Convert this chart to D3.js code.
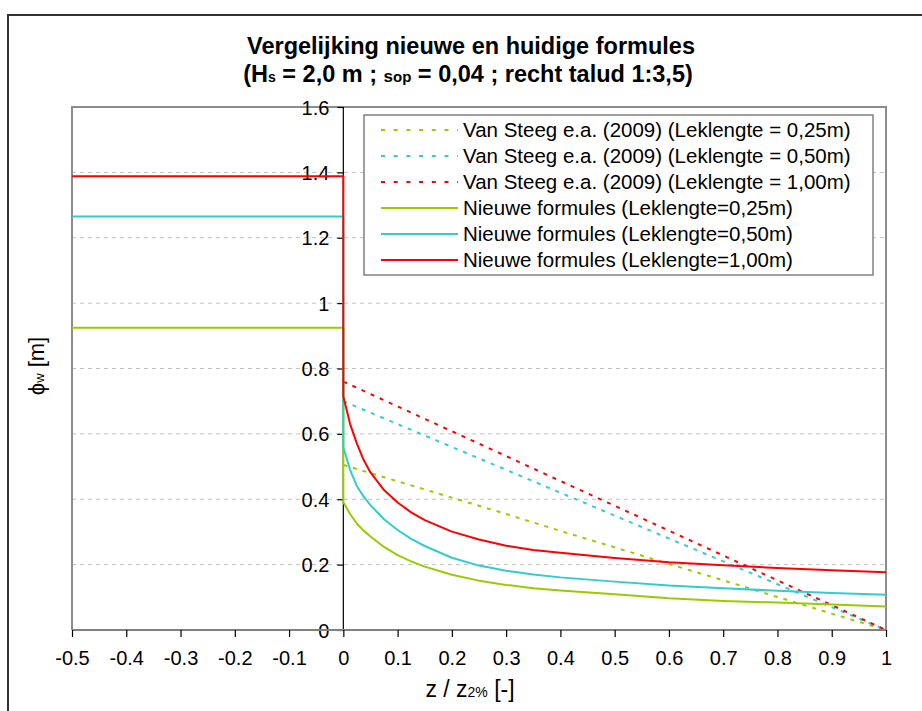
<!DOCTYPE html>
<html><head><meta charset="utf-8">
<script src="https://cdn.jsdelivr.net/npm/d3@7"></script>
<style>
body{margin:0;background:#fff;}
svg{display:block;font-family:"Liberation Sans",Arial,sans-serif;}
</style></head>
<body><svg id="c" width="922" height="711"></svg>
<script>
// ---- data ----
const xTicks = [-0.5,-0.4,-0.3,-0.2,-0.1,0,0.1,0.2,0.3,0.4,0.5,0.6,0.7,0.8,0.9,1];
const xTickLabels = ["-0.5","-0.4","-0.3","-0.2","-0.1","0","0.1","0.2","0.3","0.4","0.5","0.6","0.7","0.8","0.9","1"];
const yTicks = [0,0.2,0.4,0.6,0.8,1,1.2,1.4,1.6];
const yTickLabels = ["0","0.2","0.4","0.6","0.8","1","1.2","1.4","1.6"];

// Van Steeg e.a. (2009) – dotted
const zSteeg = [0,0.1,0.2,0.3,0.4,0.5,0.6,0.7,0.8,0.9,1.0];
const steeg025 = [0.505,0.455,0.405,0.355,0.303,0.253,0.202,0.152,0.101,0.05,0];
const steeg050 = [0.70,0.63,0.56,0.49,0.42,0.35,0.28,0.21,0.14,0.07,0];
const steeg100 = [0.76,0.684,0.608,0.532,0.456,0.38,0.304,0.228,0.152,0.076,0];

// Nieuwe formules – solid (z<0 part is constant level, then vertical drop at z=0)
const zNew = [-0.5,0,0,0.0125,0.025,0.0375,0.05,0.075,0.1,0.125,0.15,0.2,0.25,0.3,0.35,0.4,0.5,0.6,0.7,0.8,0.9,1.0];
const new025 = [0.925,0.925,0.391,0.355,0.325,0.304,0.286,0.254,0.229,0.210,0.194,0.169,0.151,0.138,0.128,0.121,0.109,0.097,0.089,0.084,0.078,0.072];
const new050 = [1.265,1.265,0.559,0.490,0.440,0.408,0.382,0.339,0.306,0.279,0.257,0.221,0.197,0.181,0.170,0.161,0.148,0.136,0.128,0.120,0.113,0.108];
const new100 = [1.388,1.388,0.714,0.630,0.570,0.520,0.482,0.428,0.390,0.360,0.336,0.301,0.277,0.258,0.245,0.236,0.220,0.207,0.198,0.190,0.183,0.177];

const seriesNames = [
 "Van Steeg e.a. (2009) (Leklengte = 0,25m)",
 "Van Steeg e.a. (2009) (Leklengte = 0,50m)",
 "Van Steeg e.a. (2009) (Leklengte = 1,00m)",
 "Nieuwe formules (Leklengte=0,25m)",
 "Nieuwe formules (Leklengte=0,50m)",
 "Nieuwe formules (Leklengte=1,00m)"
];
const seriesColors = ["#99cc00","#33cccc","#ff0000","#99cc00","#33cccc","#ff0000"];
const seriesDashed = [true,true,true,false,false,false];
const seriesX = [zSteeg,zSteeg,zSteeg,zNew,zNew,zNew];
const seriesY = [steeg025,steeg050,steeg100,new025,new050,new100];

// ---- drawing ----
const svg = d3.select("#c");
const L=72, R=886, T=107, B=630;
const x = d3.scaleLinear().domain([-0.5,1]).range([L,R]);
const y = d3.scaleLinear().domain([0,1.6]).range([B,T]);

// outer frame
svg.append("rect").attr("x",8).attr("y",15).attr("width",940).attr("height",720)
  .attr("fill","#fff").attr("stroke","#333").attr("stroke-width",2);

// title
const title = svg.append("text").attr("text-anchor","middle").attr("font-weight","bold").attr("font-size",23.5).attr("fill","#000");
title.append("tspan").attr("x",471).attr("y",54).text("Vergelijking nieuwe en huidige formules");
const t2 = title.append("tspan").attr("x",468).attr("y",82);
t2.append("tspan").text("(H");
t2.append("tspan").attr("font-size",14).text("s");
t2.append("tspan").text(" = 2,0 m ; ");
t2.append("tspan").attr("font-size",17).text("s");
t2.append("tspan").attr("font-size",15).text("op");
t2.append("tspan").text(" = 0,04 ; recht talud 1:3,5)");

// plot area
svg.append("rect").attr("x",L).attr("y",T).attr("width",R-L).attr("height",B-T).attr("fill","#fff");

// grid
svg.append("g").selectAll("line").data(yTicks.filter(d=>d>0 && d<1.6)).join("line")
  .attr("x1",L).attr("x2",R).attr("y1",d=>y(d)).attr("y2",d=>y(d))
  .attr("stroke","#c0c0c0").attr("stroke-width",1).attr("stroke-dasharray","4,4");

// plot border (top/left/right)
svg.append("path").attr("d",`M${L},${B}V${T}H${R}V${B}`).attr("fill","none").attr("stroke","#8c8c8c").attr("stroke-width",2);

// y axis at z=0
const yAxis = d3.axisLeft(y).tickValues(yTicks).tickFormat((d,i)=>yTickLabels[i]).tickSize(6).tickPadding(8);
const gy = svg.append("g").attr("transform",`translate(${x(0)},0)`).call(yAxis);
gy.select(".domain").attr("stroke","#000").attr("stroke-width",1.2).attr("d",`M0,${T}V${B}`);
gy.selectAll(".tick line").attr("stroke","#000").attr("stroke-width",1.2);
gy.selectAll(".tick text").attr("font-size",20).attr("font-family","Liberation Sans, Arial, sans-serif").attr("fill","#000").attr("dy","0.35em");

// series
const line = d3.line().x(d=>x(d[0])).y(d=>y(d[1]));
seriesNames.forEach((n,i)=>{
  const pts = seriesX[i].map((z,j)=>[z,seriesY[i][j]]);
  svg.append("path").datum(pts).attr("d",line).attr("fill","none")
    .attr("stroke",seriesColors[i]).attr("stroke-width",2)
    .attr("stroke-linejoin","round")
    .attr("stroke-dasharray",seriesDashed[i]?"4,6":null);
});

// x axis
const xAxis = d3.axisBottom(x).tickValues(xTicks).tickFormat((d,i)=>xTickLabels[i]).tickSize(7).tickPadding(14);
const gx = svg.append("g").attr("transform",`translate(0,${B})`).call(xAxis);
gx.select(".domain").attr("stroke","#808080").attr("stroke-width",2).attr("d",`M${L},0H${R}`);
gx.selectAll(".tick line").attr("stroke","#000").attr("stroke-width",1.2);
gx.selectAll(".tick text").attr("font-size",20).attr("font-family","Liberation Sans, Arial, sans-serif").attr("fill","#000");

// axis titles
const xt = svg.append("text").attr("x",470).attr("y",697).attr("text-anchor","middle").attr("font-size",23).attr("fill","#000");
xt.append("tspan").text("z / z");
xt.append("tspan").attr("font-size",14).text("2%");
xt.append("tspan").text(" [-]");
const yt = svg.append("text").attr("transform","translate(44,366) rotate(-90)").attr("text-anchor","middle").attr("font-size",22).attr("fill","#000");
yt.append("tspan").text("ϕ");
yt.append("tspan").attr("font-size",13).text("w");
yt.append("tspan").text(" [m]");

// legend
const lg = svg.append("g");
lg.append("rect").attr("x",364).attr("y",115).attr("width",509).attr("height",160)
  .attr("fill","#fff").attr("stroke","#808080").attr("stroke-width",1.5);
seriesNames.forEach((n,i)=>{
  const yy = 130 + i*26;
  lg.append("line").attr("x1",381).attr("x2",458).attr("y1",yy).attr("y2",yy)
    .attr("stroke",seriesColors[i]).attr("stroke-width",2)
    .attr("stroke-dasharray",seriesDashed[i]?"4,8.7":null);
  lg.append("text").attr("x",463).attr("y",yy).attr("dy","0.35em").attr("font-size",20.5).attr("fill","#000").text(n);
});
</script></body></html>
